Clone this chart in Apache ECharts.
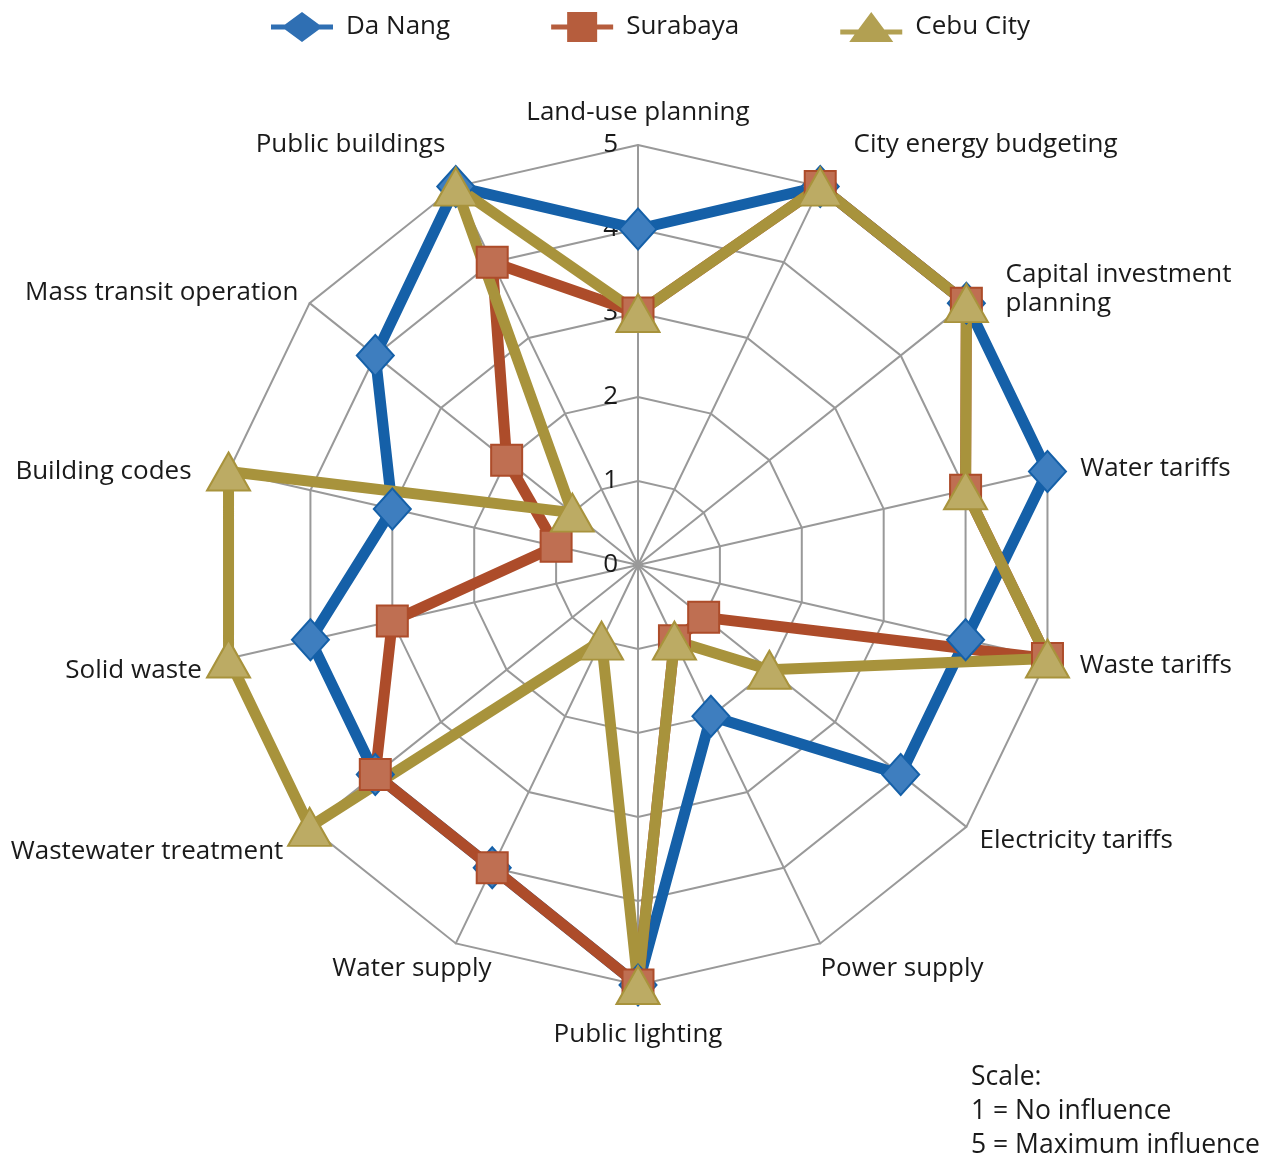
<!DOCTYPE html>
<html>
<head>
<meta charset="utf-8">
<script src="https://cdn.jsdelivr.net/npm/echarts@6/dist/echarts.min.js"></script>
<style>
  html, body { margin: 0; padding: 0; background: #fff; }
  #chart { width: 1264px; height: 1158px; }
</style>
</head>
<body>
<div id="chart"></div>
<script>
  // indicator names, clockwise from top
  let indicatorNames = [
    'Land-use planning', 'City energy budgeting', 'Capital investment\nplanning',
    'Water tariffs', 'Waste tariffs', 'Electricity tariffs', 'Power supply',
    'Public lighting', 'Water supply', 'Wastewater treatment', 'Solid waste',
    'Building codes', 'Mass transit operation', 'Public buildings'
  ]
  let daNang = [4, 5, 5, 5, 4, 4, 2, 5, 4, 4, 4, 3, 4, 5]
  let surabaya = [3, 5, 5, 4, 5, 1, 1, 5, 4, 4, 3, 1, 2, 4]
  let cebuCity = [3, 5, 5, 4, 5, 2, 1, 5, 1, 5, 5, 5, 1, 5]
  let scaleMax = 5

  // name placement tweaks (same order as names): gap from axis end, text padding
  let nameGaps = [18, 47, 22, 13, 33, 22, 28, 35, 28, 40, 54, 0, 17, 47]
  let namePads = [
    0, [0, 0, 0, 13], [0, 0, 0, 22], [0, 0, 0, 20], 0, [0, 0, 0, -4], [0, 0, 0, -12],
    0, [0, -48, 0, 0], [0, -5, 0, 0], [0, -26, 0, 0], [0, 37, 0, 0], [0, -2, 0, 0], [0, -10, 0, 0]
  ]

  let font = '"Open Sans", "Noto Sans", sans-serif'

  // radar runs counter-clockwise, so keep the first axis at top and reverse the rest
  function clockwise(arr) {
    return [arr[0]].concat(arr.slice(1).reverse())
  }

  let chart = echarts.init(document.getElementById('chart'))

  // legend icons: line with marker in the middle (62 x 30 box)
  let icons = {
    diamond: 'path://M0,12.5L14,12.5L31,0L48,12.5L62,12.5L62,17.5L48,17.5L31,30L14,17.5L0,17.5Z',
    rect: 'path://M0,12.5L16,12.5L16,0L46,0L46,12.5L62,12.5L62,17.5L46,17.5L46,30L16,30L16,17.5L0,17.5Z',
    triangle: 'path://M0,17.5L18,17.5L31,0L44,17.5L62,17.5L62,22.5L47.7,22.5L53,30L9,30L14.3,22.5L0,22.5Z'
  }

  function makeSeries(name, data, symbol, size, lineColor, fill) {
    return {
      name: name,
      type: 'radar',
      symbol: symbol,
      symbolSize: size,
      lineStyle: { color: lineColor, width: 11 },
      itemStyle: { color: fill, borderColor: lineColor, borderWidth: 2 },
      data: [{ name: name, value: clockwise(data) }]
    }
  }

  let gapsCw = clockwise(nameGaps)
  let padsCw = clockwise(namePads)

  chart.setOption({
    backgroundColor: '#fff',
    textStyle: { fontFamily: font },
    legend: {
      top: 7,
      left: 266,
      itemWidth: 62,
      itemHeight: 30,
      itemGap: 101,
      textStyle: { fontSize: 26, color: '#1a1a1a', fontFamily: font, padding: [0, 0, 0, 8] },
      data: [
        { name: 'Da Nang', icon: icons.diamond, itemStyle: { color: '#2f6fb3', borderWidth: 0 } },
        { name: 'Surabaya', icon: icons.rect, itemStyle: { color: '#b65d3d', borderWidth: 0 } },
        { name: 'Cebu City', icon: icons.triangle, itemStyle: { color: '#b2a052', borderWidth: 0 } }
      ]
    },
    title: {
      text: 'Scale:\n1 = No influence\n5 = Maximum influence',
      left: 966,
      top: 1055,
      textStyle: { fontSize: 26.5, fontWeight: 'normal', color: '#1a1a1a', lineHeight: 34, fontFamily: font }
    },
    radar: {
      center: [638, 565],
      radius: 420,
      startAngle: 90,
      shape: 'polygon',
      splitNumber: 5,
      axisName: { color: '#1a1a1a', fontSize: 26, fontFamily: font, lineHeight: 29 },
      nameGap: 24,
      axisLine: { lineStyle: { color: '#999', width: 2 } },
      splitLine: { lineStyle: { color: '#999', width: 2 } },
      splitArea: { show: false },
      axisLabel: { show: false },
      indicator: clockwise(indicatorNames).map((n, i) => {
        let ind = { name: n, min: 0, max: scaleMax, nameGap: gapsCw[i] }
        if (padsCw[i]) {
          ind.nameTextStyle = { padding: padsCw[i] }
        }
        if (i === 0) {
          ind.axisLabel = { show: true, fontSize: 26, color: '#1a1a1a', margin: 20, fontFamily: font }
        }
        return ind
      })
    },
    series: [
      makeSeries('Da Nang', daNang, 'diamond', [37, 41], '#1560a8', '#3e7ebf'),
      makeSeries('Surabaya', surabaya, 'rect', 31, '#ad4c2a', '#bf6f52'),
      makeSeries('Cebu City', cebuCity, 'triangle', [43, 38], '#a8933c', '#bcab64')
    ]
  })
</script>
</body>
</html>
